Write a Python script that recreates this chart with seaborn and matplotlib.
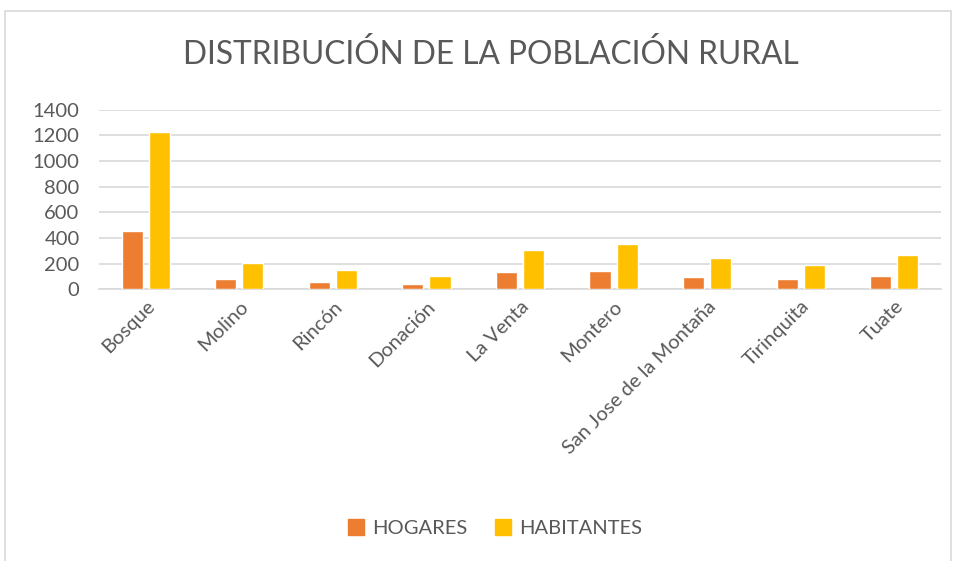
import pandas as pd
import matplotlib.pyplot as plt
import matplotlib.patches as mpatches
import seaborn as sns

# Data
localidades = ['Bosque', 'Molino', 'Rincón', 'Donación', 'La Venta', 'Montero',
               'San Jose de la Montaña', 'Tirinquita', 'Tuate']
hogares = [455, 83, 57, 41, 135, 140, 94, 78, 101]
habitantes = [1225, 205, 148, 104, 306, 351, 242, 189, 267]
series = ['HOGARES', 'HABITANTES']
colores = ['#ED7D31', '#FFC000']
y_ticks = [0, 200, 400, 600, 800, 1000, 1200, 1400]

df = pd.DataFrame({'Localidad': localidades * 2,
                   'Serie': [series[0]] * len(hogares) + [series[1]] * len(habitantes),
                   'Valor': hogares + habitantes})

sns.set_theme(style='white')
plt.rcParams['font.family'] = ['Lato', 'DejaVu Sans']
gris = '#595959'

fig = plt.figure(figsize=(9.56, 5.61), dpi=100)
ax = fig.add_axes([99 / 956, 1 - 289.3 / 561, 842 / 956, 179.6 / 561])

sns.barplot(data=df, x='Localidad', y='Valor', hue='Serie', palette=colores,
            saturation=1, width=0.58, gap=0.22, ax=ax, legend=False, zorder=3)

ax.set_ylim(0, 1400)
ax.set_yticks(y_ticks)
ax.set_xlim(-0.5, len(localidades) - 0.5)
ax.yaxis.grid(True, color='#D9D9D9', linewidth=1.2, zorder=0)
ax.set_axisbelow(True)
for s in ['top', 'right', 'left']:
    ax.spines[s].set_visible(False)
ax.spines['bottom'].set_color('#D9D9D9')
ax.spines['bottom'].set_linewidth(1.2)
ax.set_xlabel('')
ax.set_ylabel('')
ax.tick_params(axis='both', length=0, labelsize=14.5, colors=gris)
ax.tick_params(axis='y', pad=14)
ax.tick_params(axis='x', pad=6)
plt.setp(ax.get_xticklabels(), rotation=45, ha='right', rotation_mode='anchor')

fig.text(491 / 956, 1 - 55 / 561, 'DISTRIBUCIÓN DE LA POBLACIÓN RURAL',
         ha='center', va='center', fontsize=22.8, color=gris)

handles = [mpatches.Patch(color=c, label=s) for c, s in zip(colores, series)]
fig.legend(handles=handles, loc='center', bbox_to_anchor=(495 / 956, 1 - 528 / 561),
           ncol=2, frameon=False, fontsize=14.5, labelcolor=gris,
           handlelength=0.8, handleheight=0.8, handletextpad=0.4, columnspacing=1.4)

# chart border
fig.patches.append(mpatches.Rectangle((5 / 956, -0.05), 946 / 956, 1 - 11 / 561 + 0.05,
                                      transform=fig.transFigure, fill=False,
                                      edgecolor='#D9D9D9', linewidth=1.2))

fig.savefig('out.png', dpi=100)
